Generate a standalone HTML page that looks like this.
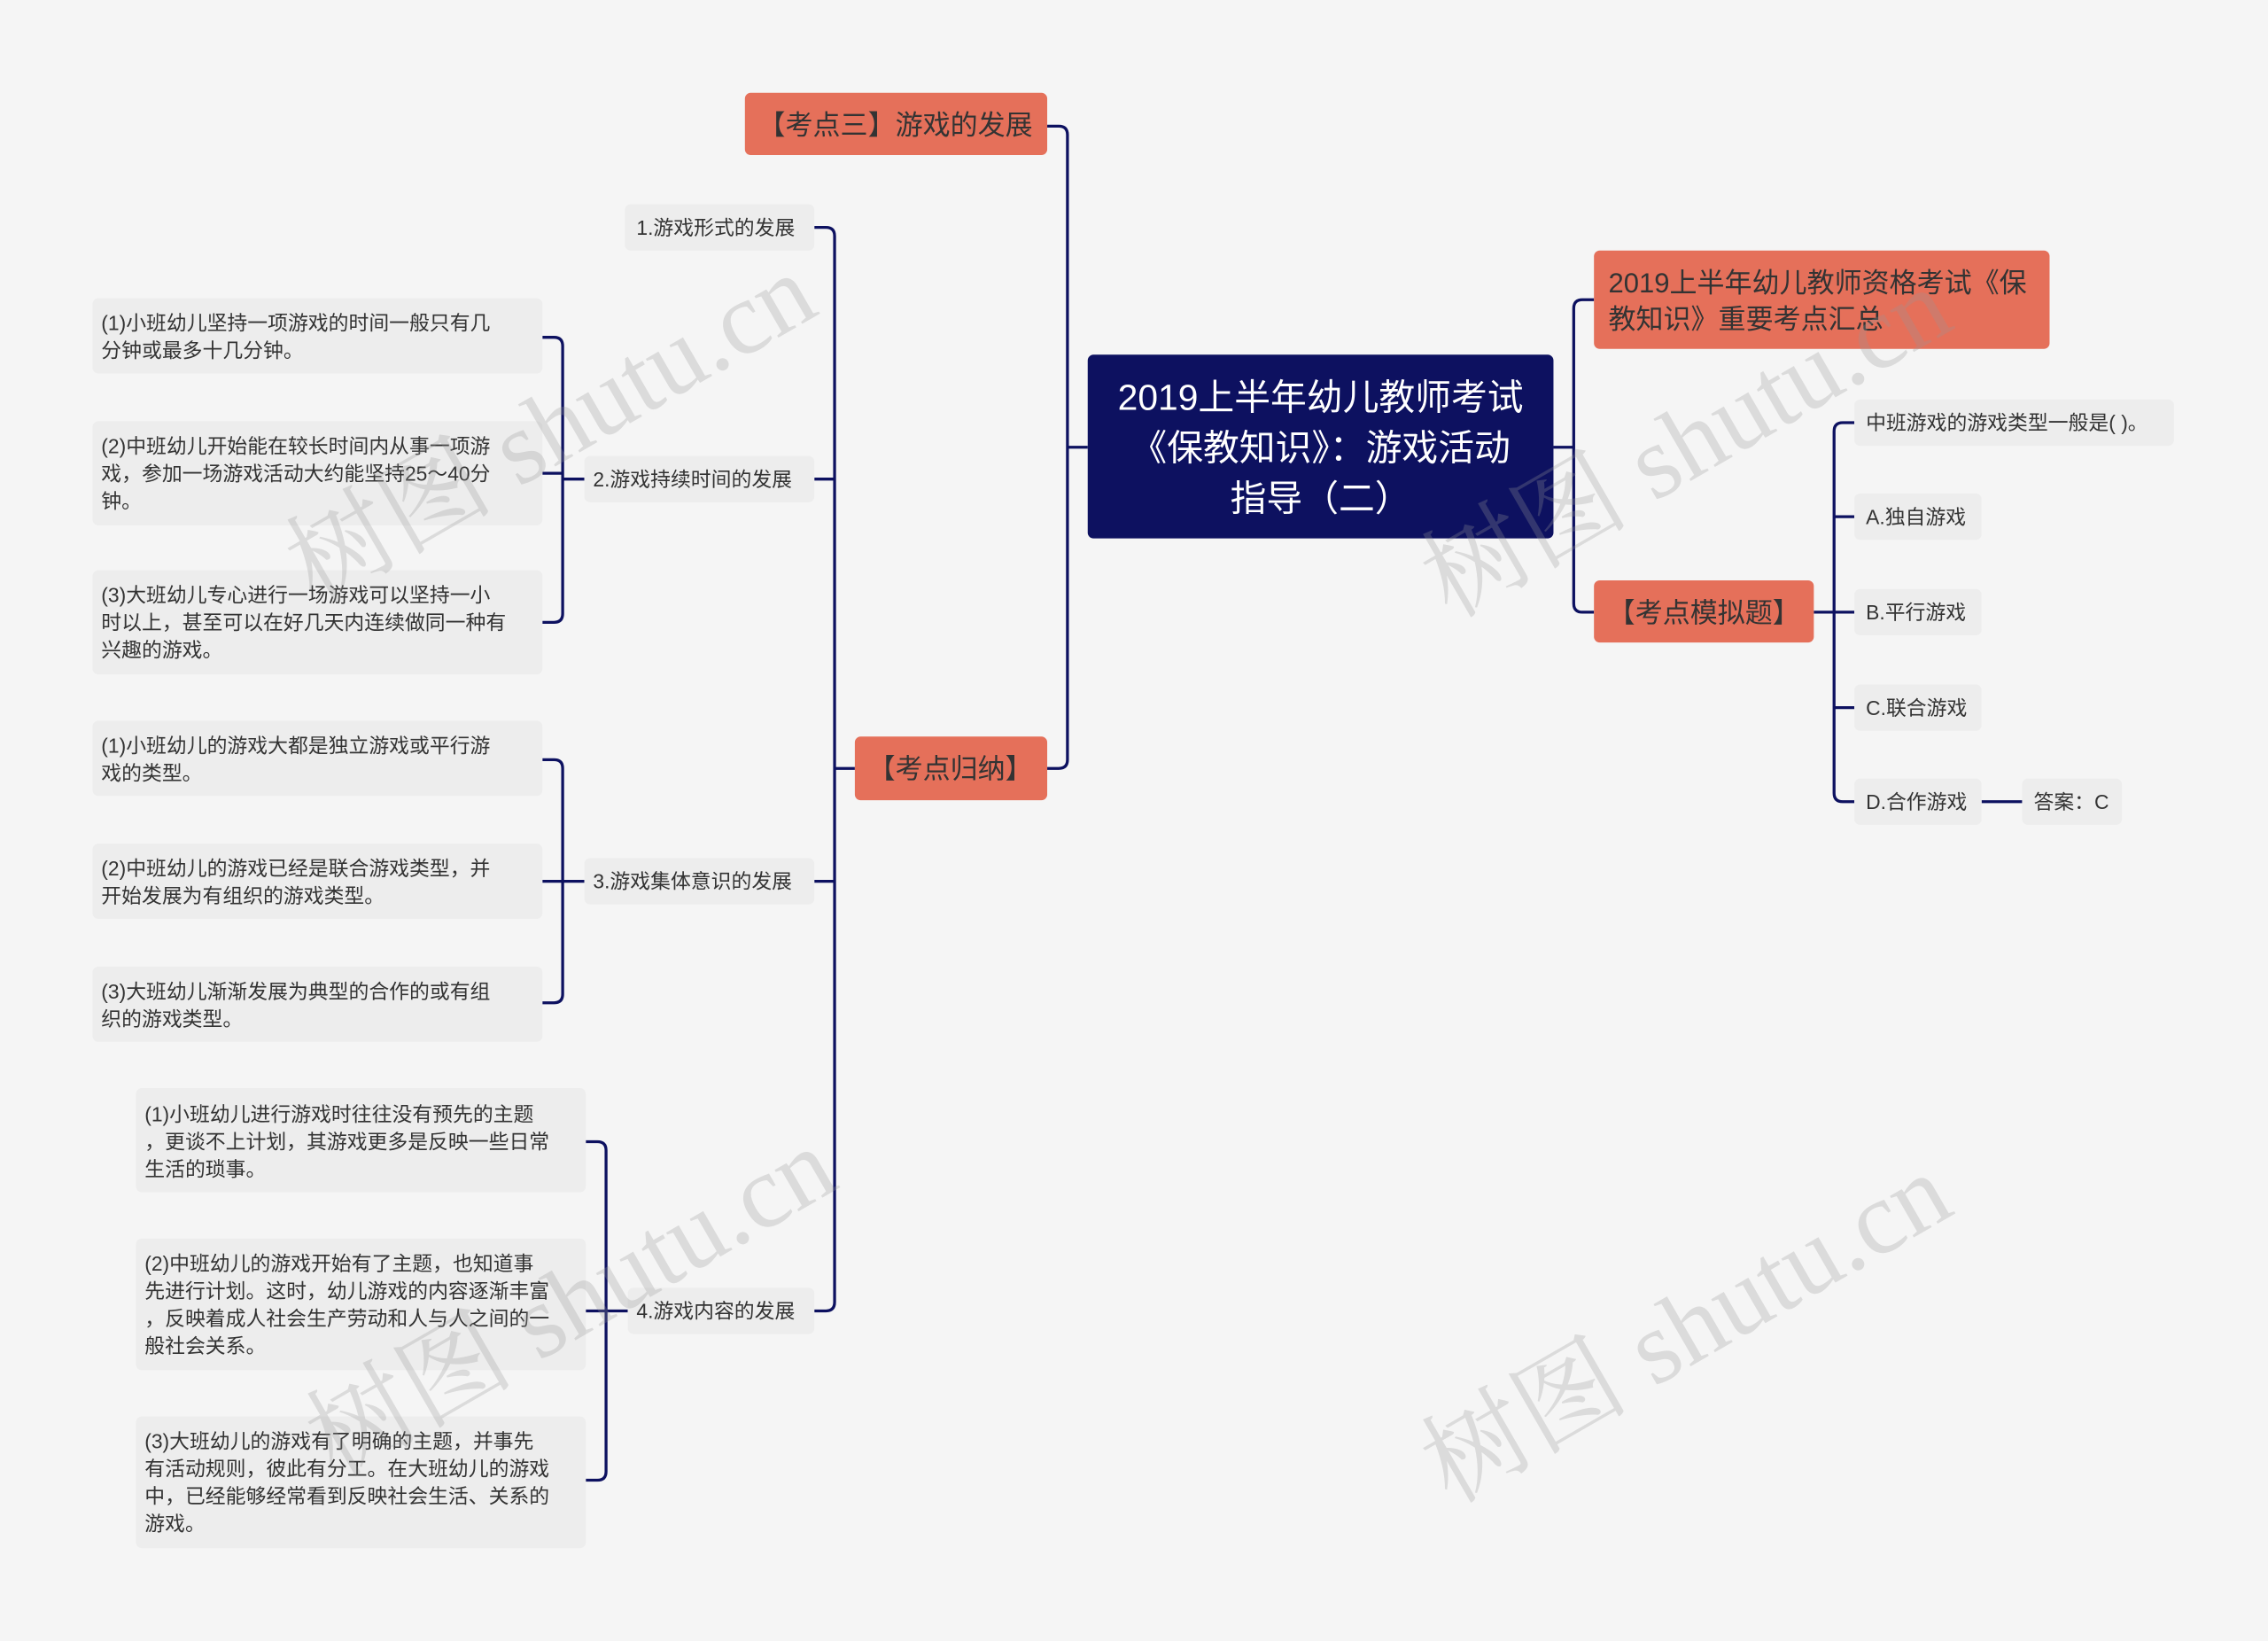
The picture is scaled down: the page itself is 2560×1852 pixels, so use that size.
<!DOCTYPE html>
<html><head><meta charset="utf-8"><style>
html,body{margin:0;padding:0;background:#f5f5f5;}
svg{display:block;}
text{font-family:"Liberation Sans","Noto Sans CJK SC",sans-serif;}
.l{font-size:14px;fill:#333;}
.o{font-size:19px;fill:#333;}
.w{font-size:72px;fill:rgba(150,150,150,0.28);font-family:"Liberation Serif","Noto Serif CJK SC",serif;}
</style></head><body>
<svg width="2560" height="1852" viewBox="0 0 1568 1134" xmlns="http://www.w3.org/2000/svg">
<rect width="1568" height="1134" fill="#f5f5f5"/>
<g fill="none" stroke="#0d1160" stroke-width="2">
<path d="M752 309H738"/>
<path d="M724 87H732Q738 87 738 93V525Q738 531 732 531H724"/>
<path d="M591 531H577"/>
<path d="M563 157H571Q577 157 577 163V900Q577 906 571 906H563"/>
<path d="M563 331H577M563 609H577"/>
<path d="M404 331H389"/>
<path d="M375 233H383Q389 233 389 239V424Q389 430 383 430H375"/>
<path d="M375 327H389"/>
<path d="M404 609H389"/>
<path d="M375 525H383Q389 525 389 531V687Q389 693 383 693H375"/>
<path d="M375 609H389"/>
<path d="M434 906H419"/>
<path d="M405 789H413Q419 789 419 795V1017Q419 1023 413 1023H405"/>
<path d="M405 906H419"/>
<path d="M1074 309H1088"/>
<path d="M1102 207H1094Q1088 207 1088 213V417Q1088 423 1094 423H1102"/>
<path d="M1254 423H1268"/>
<path d="M1282 292H1274Q1268 292 1268 298V548Q1268 554 1274 554H1282"/>
<path d="M1268 357H1282M1268 423H1282M1268 489H1282"/>
<path d="M1370 554H1398"/>
</g>
<rect x="752" y="245" width="322" height="127" rx="4" fill="#0d1160"/>
<g fill="#fff" font-size="25" text-anchor="middle">
<text x="913" y="283">2019上半年幼儿教师考试</text>
<text x="913" y="318">《保教知识》：游戏活动</text>
<text x="913" y="353">指导（二）</text>
</g>
<g fill="#e5705a">
<rect x="515" y="64" width="209" height="43" rx="4"/>
<rect x="591" y="509" width="133" height="44" rx="4"/>
<rect x="1102" y="173" width="315" height="68" rx="4"/>
<rect x="1102" y="401" width="152" height="43" rx="4"/>
</g>
<text class="o" x="619" y="93" text-anchor="middle">【考点三】游戏的发展</text>
<text class="o" x="657" y="538" text-anchor="middle">【考点归纳】</text>
<text class="o" x="1112" y="202">2019上半年幼儿教师资格考试《保</text>
<text class="o" x="1112" y="227">教知识》重要考点汇总</text>
<text class="o" x="1178" y="430" text-anchor="middle">【考点模拟题】</text>
<g fill="#ededed">
<rect x="432" y="141" width="131" height="32" rx="4"/>
<rect x="404" y="315" width="159" height="32" rx="4"/>
<rect x="404" y="593" width="159" height="32" rx="4"/>
<rect x="434" y="890" width="129" height="32" rx="4"/>
<rect x="64" y="206" width="311" height="52" rx="4"/>
<rect x="64" y="291" width="311" height="72" rx="4"/>
<rect x="64" y="394" width="311" height="72" rx="4"/>
<rect x="64" y="498" width="311" height="52" rx="4"/>
<rect x="64" y="583" width="311" height="52" rx="4"/>
<rect x="64" y="668" width="311" height="52" rx="4"/>
<rect x="94" y="752" width="311" height="72" rx="4"/>
<rect x="94" y="856" width="311" height="91" rx="4"/>
<rect x="94" y="979" width="311" height="91" rx="4"/>
<rect x="1282" y="276" width="221" height="32" rx="4"/>
<rect x="1282" y="341" width="88" height="32" rx="4"/>
<rect x="1282" y="407" width="88" height="32" rx="4"/>
<rect x="1282" y="473" width="88" height="32" rx="4"/>
<rect x="1282" y="538" width="88" height="32" rx="4"/>
<rect x="1398" y="538" width="69" height="32" rx="4"/>
</g>
<g>
<text class="l" x="440" y="162">1.游戏形式的发展</text>
<text class="l" x="410" y="336">2.游戏持续时间的发展</text>
<text class="l" x="410" y="614">3.游戏集体意识的发展</text>
<text class="l" x="440" y="911">4.游戏内容的发展</text>
<text class="l" x="70" y="228">(1)小班幼儿坚持一项游戏的时间一般只有几</text>
<text class="l" x="70" y="247">分钟或最多十几分钟。</text>
<text class="l" x="70" y="313">(2)中班幼儿开始能在较长时间内从事一项游</text>
<text class="l" x="70" y="332">戏，参加一场游戏活动大约能坚持25～40分</text>
<text class="l" x="70" y="351">钟。</text>
<text class="l" x="70" y="416">(3)大班幼儿专心进行一场游戏可以坚持一小</text>
<text class="l" x="70" y="435">时以上，甚至可以在好几天内连续做同一种有</text>
<text class="l" x="70" y="454">兴趣的游戏。</text>
<text class="l" x="70" y="520">(1)小班幼儿的游戏大都是独立游戏或平行游</text>
<text class="l" x="70" y="539">戏的类型。</text>
<text class="l" x="70" y="605">(2)中班幼儿的游戏已经是联合游戏类型，并</text>
<text class="l" x="70" y="624">开始发展为有组织的游戏类型。</text>
<text class="l" x="70" y="690">(3)大班幼儿渐渐发展为典型的合作的或有组</text>
<text class="l" x="70" y="709">织的游戏类型。</text>
<text class="l" x="100" y="775">(1)小班幼儿进行游戏时往往没有预先的主题</text>
<text class="l" x="100" y="794">，更谈不上计划，其游戏更多是反映一些日常</text>
<text class="l" x="100" y="813">生活的琐事。</text>
<text class="l" x="100" y="878">(2)中班幼儿的游戏开始有了主题，也知道事</text>
<text class="l" x="100" y="897">先进行计划。这时，幼儿游戏的内容逐渐丰富</text>
<text class="l" x="100" y="916">，反映着成人社会生产劳动和人与人之间的一</text>
<text class="l" x="100" y="935">般社会关系。</text>
<text class="l" x="100" y="1001">(3)大班幼儿的游戏有了明确的主题，并事先</text>
<text class="l" x="100" y="1020">有活动规则，彼此有分工。在大班幼儿的游戏</text>
<text class="l" x="100" y="1039">中，已经能够经常看到反映社会生活、关系的</text>
<text class="l" x="100" y="1058">游戏。</text>
<text class="l" x="1290" y="297">中班游戏的游戏类型一般是( )。</text>
<text class="l" x="1290" y="362">A.独自游戏</text>
<text class="l" x="1290" y="428">B.平行游戏</text>
<text class="l" x="1290" y="494">C.联合游戏</text>
<text class="l" x="1290" y="559">D.合作游戏</text>
<text class="l" x="1406" y="559">答案：C</text>
</g>
<text class="w" transform="translate(218,418) rotate(-30)">树图 shutu.cn</text>
<text class="w" transform="translate(1003,428) rotate(-30)">树图 shutu.cn</text>
<text class="w" transform="translate(232,1022) rotate(-30)">树图 shutu.cn</text>
<text class="w" transform="translate(1003,1040) rotate(-30)">树图 shutu.cn</text>
</svg>
</body></html>
